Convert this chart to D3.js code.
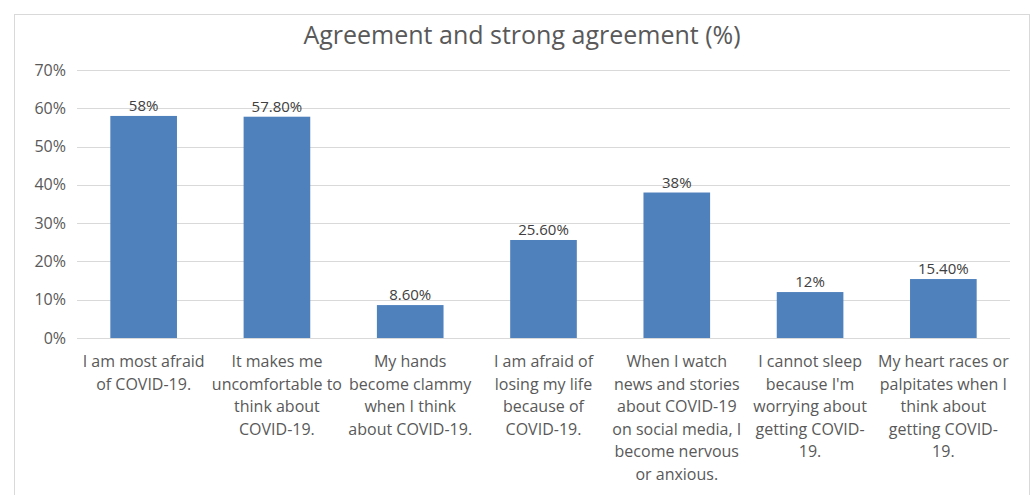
<!DOCTYPE html>
<html>
<head>
<meta charset="utf-8">
<script src="https://cdn.jsdelivr.net/npm/d3@7"></script>
<style>
  body { margin: 0; background: #fff; }
  text { font-family: "Open Sans", sans-serif; }
</style>
</head>
<body>
<svg id="chart"></svg>
<script>
const width = 1032,
    height = 495;

// data
const categories = [
    "I am most afraid\nof COVID-19.",
    "It makes me\nuncomfortable to\nthink about\nCOVID-19.",
    "My hands\nbecome clammy\nwhen I think\nabout COVID-19.",
    "I am afraid of\nlosing my life\nbecause of\nCOVID-19.",
    "When I watch\nnews and stories\nabout COVID-19\non social media, I\nbecome nervous\nor anxious.",
    "I cannot sleep\nbecause I'm\nworrying about\ngetting COVID-\n19.",
    "My heart races or\npalpitates when I\nthink about\ngetting COVID-\n19."
];
const values = [58, 57.8, 8.6, 25.6, 38, 12, 15.4];
const valueLabels = ["58%", "57.80%", "8.60%", "25.60%", "38%", "12%", "15.40%"];
const yTicks = [0, 10, 20, 30, 40, 50, 60, 70];

const margin = { top: 70, right: 22, bottom: 157, left: 77 };

const svg = d3.select("#chart")
    .attr("width", width)
    .attr("height", height);

// chart area border
svg.append("rect")
    .attr("x", 14.5)
    .attr("y", 14.5)
    .attr("width", 1015)
    .attr("height", 500)
    .attr("fill", "#fff")
    .attr("stroke", "#d9d9d9");

const x = d3.scaleBand()
    .domain(categories)
    .range([margin.left, width - margin.right])
    .paddingInner(0.5)
    .paddingOuter(0.25);

const y = d3.scaleLinear()
    .domain([0, 70])
    .range([height - margin.bottom, margin.top]);

// gridlines
svg.append("g")
    .selectAll("line")
    .data(yTicks)
    .enter()
    .append("line")
    .attr("x1", margin.left)
    .attr("x2", width - margin.right)
    .attr("y1", d => Math.round(y(d)) + 0.5)
    .attr("y2", d => Math.round(y(d)) + 0.5)
    .attr("stroke", "#d9d9d9")
    .attr("stroke-width", 1);

// y axis labels
const yAxis = d3.axisLeft(y)
    .tickValues(yTicks)
    .tickFormat(d => d + "%")
    .tickSize(0)
    .tickPadding(11);

svg.append("g")
    .attr("transform", `translate(${margin.left},0)`)
    .call(yAxis)
    .call(g => g.select(".domain").remove())
    .selectAll("text")
    .attr("font-family", "'Open Sans', sans-serif")
    .attr("font-size", 16)
    .attr("fill", "#595959");

// bars
svg.append("g")
    .selectAll("rect")
    .data(values)
    .enter()
    .append("rect")
    .attr("x", (d, i) => x(categories[i]))
    .attr("width", x.bandwidth())
    .attr("y", d => y(d))
    .attr("height", d => y(0) - y(d))
    .attr("fill", "#4f81bd");

// value labels
svg.append("g")
    .selectAll("text")
    .data(values)
    .enter()
    .append("text")
    .attr("x", (d, i) => x(categories[i]) + x.bandwidth() / 2)
    .attr("y", d => y(d) - 5)
    .attr("text-anchor", "middle")
    .attr("font-size", 15)
    .attr("fill", "#404040")
    .text((d, i) => valueLabels[i]);

// category labels, wrapped like the original
const catG = svg.append("g");
categories.forEach((c, i) => {
    const t = catG.append("text")
        .attr("text-anchor", "middle")
        .attr("font-size", 16)
        .attr("fill", "#595959");
    c.split("\n").forEach((line, j) => {
        t.append("tspan")
            .attr("x", x(c) + x.bandwidth() / 2)
            .attr("y", 367 + j * 22.6)
            .text(line);
    });
});

// title
svg.append("text")
    .attr("x", 522)
    .attr("y", 44)
    .attr("text-anchor", "middle")
    .attr("font-size", 25)
    .attr("fill", "#595959")
    .text("Agreement and strong agreement (%)");
</script>
</body>
</html>
